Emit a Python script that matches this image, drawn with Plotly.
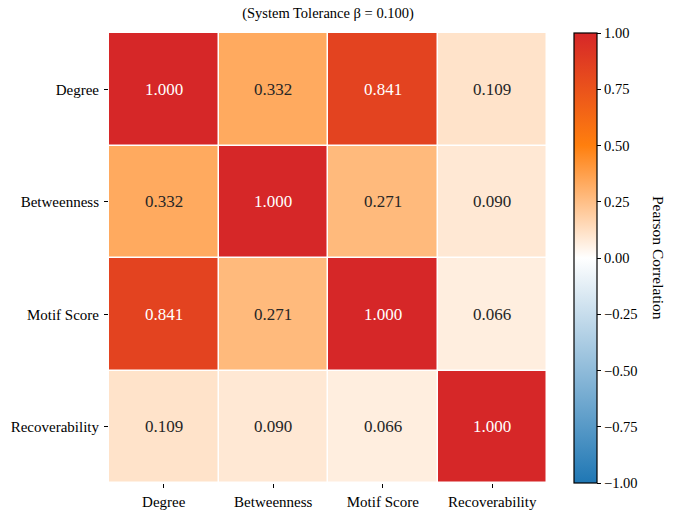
import plotly.graph_objects as go

# Centrality / robustness metrics and their pairwise Pearson correlations
metrics = ["Degree", "Betweenness", "Motif Score", "Recoverability"]
corr = [
    [1.000, 0.332, 0.841, 0.109],
    [0.332, 1.000, 0.271, 0.090],
    [0.841, 0.271, 1.000, 0.066],
    [0.109, 0.090, 0.066, 1.000],
]
cbar_ticks = [-1.0, -0.75, -0.5, -0.25, 0.0, 0.25, 0.5, 0.75, 1.0]
title_text = "(System Tolerance β = 0.100)"
cbar_title = "Pearson Correlation"

FONT = "Liberation Serif, Times New Roman, serif"

# Diverging map: blue -> white -> orange -> red over [-1, 1]
colorscale = [
    [0.0, "#1f77b4"],
    [0.5, "#ffffff"],
    [0.75, "#ff7f0e"],
    [1.0, "#d62728"],
]

W, H = 686, 510
L, R, T, B = 109, 139, 33, 27
plot_w = W - L - R

fig = go.Figure(
    go.Heatmap(
        z=corr,
        x=metrics,
        y=metrics,
        zmin=-1,
        zmax=1,
        colorscale=colorscale,
        xgap=1.5,
        ygap=1.5,
        hoverinfo="skip",
        colorbar=dict(
            x=1 + (574 - (W - R)) / plot_w,
            xanchor="left",
            xpad=0,
            ypad=0,
            y=0.5,
            yanchor="middle",
            len=1,
            lenmode="fraction",
            thickness=23,
            outlinewidth=1.2,
            outlinecolor="black",
            ticks="outside",
            ticklen=4,
            tickwidth=1,
            tickcolor="black",
            tickvals=cbar_ticks,
            ticktext=[f"{v:.2f}".replace("-", "\u2212") for v in cbar_ticks],
            tickfont=dict(family=FONT, size=14.5, color="black"),
        ),
    )
)

# Cell value labels
annotations = []
for i, row_name in enumerate(metrics):
    for j, col_name in enumerate(metrics):
        v = corr[i][j]
        annotations.append(
            dict(
                x=col_name,
                y=row_name,
                text=f"{v:.3f}",
                showarrow=False,
                font=dict(family=FONT, size=17,
                          color="white" if v >= 0.5 else "#262626"),
            )
        )

# Colorbar label, reading top to bottom
annotations.append(
    dict(
        xref="paper", yref="paper",
        x=1 + (659 - (W - R)) / plot_w, y=0.5,
        text=cbar_title,
        textangle=90,
        showarrow=False,
        xanchor="center", yanchor="middle",
        font=dict(family=FONT, size=15.5, color="black"),
    )
)

fig.update_layout(
    width=W,
    height=H,
    margin=dict(l=L, r=R, t=T, b=B, autoexpand=False),
    paper_bgcolor="white",
    plot_bgcolor="white",
    font=dict(family=FONT, color="black"),
    title=dict(
        text=title_text,
        x=L / W + 0.5 * plot_w / W,
        xanchor="center",
        y=1 - 13 / H,
        yanchor="middle",
        yref="container",
        font=dict(family=FONT, size=14.5, color="black"),
    ),
    annotations=annotations,
)

fig.update_xaxes(
    automargin=False,
    showgrid=False, zeroline=False, showline=False,
    ticks="outside", ticklen=4, tickwidth=1, tickcolor="black",
    ticklabelstandoff=1,
    tickfont=dict(family=FONT, size=15, color="black"),
)
fig.update_yaxes(
    automargin=False,
    autorange="reversed",
    showgrid=False, zeroline=False, showline=False,
    ticks="outside", ticklen=4, tickwidth=1, tickcolor="black",
    ticklabelstandoff=2,
    tickfont=dict(family=FONT, size=15, color="black"),
)

fig.write_html("out.html")
